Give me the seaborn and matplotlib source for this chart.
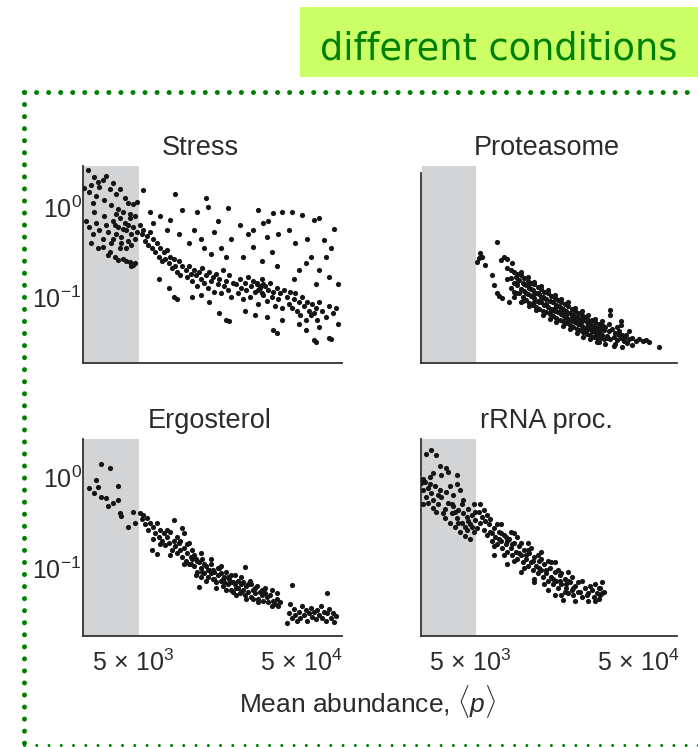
import numpy as np
import pandas as pd
import matplotlib
matplotlib.use("Agg")
import matplotlib.pyplot as plt
from matplotlib.lines import Line2D
from matplotlib.patches import Rectangle
from matplotlib.ticker import NullLocator
import seaborn as sns

# ---------------- data (log10 mean abundance, log10 noise) ----------------
panel_titles = ["Stress", "Proteasome", "Ergosterol", "rRNA proc."]
x_ticks = [5e3, 5e4]
x_tick_labels = ["$5\\,\\times\\,10^3$", "$5\\,\\times\\,10^4$"]
y_ticks = [1.0, 0.1]
y_tick_labels = ["$10^0$", "$10^{-1}$"]
x_label = "Mean abundance, $\\langle p \\rangle$"
header = "different conditions"
shade_upper = 5400  # low-abundance shaded band

stress_log = [
    (3.43, 0.41), (3.45, 0.25), (3.47, 0.33), (3.49, 0.28), (3.50, 0.22), (3.52, 0.30), (3.54, 0.35),
    (3.56, 0.20), (3.58, 0.27), (3.60, 0.14), (3.62, 0.20), (3.65, 0.10), (3.67, 0.05), (3.70, 0.03),
    (3.72, 0.06), (3.41, 0.21), (3.44, 0.17), (3.48, 0.12), (3.46, 0.05), (3.53, 0.08), (3.57, 0.02),
    (3.61, -0.02), (3.64, -0.05), (3.68, -0.08), (3.71, -0.10),
    (3.42, -0.15), (3.44, -0.22), (3.46, -0.30), (3.48, -0.18), (3.50, -0.25), (3.52, -0.35), (3.54, -0.20),
    (3.55, -0.28), (3.57, -0.40), (3.58, -0.15), (3.60, -0.30), (3.61, -0.22), (3.62, -0.45), (3.63, -0.33),
    (3.65, -0.18), (3.66, -0.26), (3.67, -0.38), (3.68, -0.12), (3.69, -0.30), (3.70, -0.22), (3.71, -0.35),
    (3.72, -0.28), (3.49, -0.45), (3.45, -0.40), (3.56, -0.50), (3.64, -0.58), (3.66, -0.60), (3.68, -0.61),
    (3.70, -0.64), (3.71, -0.62), (3.59, -0.55), (3.53, -0.10), (3.47, -0.05), (3.60, -0.08), (3.66, -0.45),
    (3.62, -0.12), (3.52, -0.44), (3.55, -0.53), (3.61, -0.59), (3.69, -0.66), (3.58, -0.35), (3.64, -0.24),
    (3.67, -0.20), (3.69, -0.42), (3.63, -0.40), (3.59, -0.20),
    (3.74, -0.20), (3.75, -0.30), (3.76, -0.25), (3.77, -0.38), (3.78, -0.32), (3.79, -0.42), (3.80, -0.28),
    (3.81, -0.45), (3.82, -0.36), (3.83, -0.50), (3.84, -0.40), (3.85, -0.55), (3.86, -0.45), (3.87, -0.60),
    (3.88, -0.50), (3.89, -0.58), (3.90, -0.48), (3.91, -0.62), (3.92, -0.55), (3.93, -0.68), (3.94, -0.58),
    (3.95, -0.66), (3.96, -0.72), (3.97, -0.60), (3.98, -0.75), (3.99, -0.65),
    (3.76, 0.19), (3.95, 0.15), (3.99, -0.03), (3.92, -0.14), (3.82, -0.18), (3.86, -0.10), (3.90, -0.25),
    (3.97, -0.30), (3.80, -0.05), (3.94, -1.00), (3.96, -1.02), (3.91, -0.90), (3.85, -0.80),
    (4.01, -0.70), (4.02, -0.78), (4.03, -0.66), (4.04, -0.74), (4.05, -0.82), (4.06, -0.70), (4.07, -0.76),
    (4.08, -0.88), (4.09, -0.72), (4.10, -0.80), (4.11, -0.68), (4.12, -0.84), (4.13, -0.76), (4.14, -0.90),
    (4.15, -0.72), (4.16, -0.82), (4.17, -0.78), (4.18, -0.94), (4.19, -0.74), (4.20, -0.86), (4.21, -0.80),
    (4.22, -0.96), (4.23, -0.70), (4.24, -0.88), (4.25, -0.82), (4.26, -0.92), (4.27, -0.76), (4.28, -1.00),
    (4.29, -0.84),
    (4.13, 0.10), (4.14, 0.00), (4.26, -0.01), (4.06, -0.25), (4.10, -0.35), (4.18, -0.28), (4.22, -0.45),
    (4.03, -0.40), (4.16, -0.52), (4.28, -0.35), (4.20, -0.15), (4.08, -0.05), (4.25, -0.55), (4.12, -0.45),
    (4.21, -1.18), (4.25, -1.26), (4.27, -1.27), (4.05, -1.00), (4.15, -1.05), (4.10, -0.98),
    (4.31, -0.85), (4.32, -0.95), (4.33, -0.80), (4.34, -0.90), (4.35, -1.02), (4.36, -0.84), (4.37, -0.92),
    (4.38, -0.78), (4.39, -1.00), (4.40, -0.88), (4.41, -0.82), (4.42, -0.94), (4.43, -0.86), (4.44, -1.08),
    (4.45, -0.90), (4.46, -0.80), (4.47, -0.98), (4.48, -0.88), (4.49, -1.04), (4.50, -0.92), (4.51, -0.84),
    (4.52, -1.00), (4.53, -0.94), (4.54, -1.10), (4.55, -0.90), (4.56, -1.02), (4.57, -0.96), (4.58, -1.12),
    (4.59, -0.92), (4.43, -0.84), (4.45, -0.88), (4.47, -0.86), (4.44, -0.92), (4.46, -0.95),
    (4.44, -0.03), (4.53, -0.07), (4.58, -0.05), (4.41, -0.25), (4.49, -0.33), (4.47, -0.18), (4.41, -0.44),
    (4.35, -0.55), (4.52, -0.50), (4.56, -0.30), (4.38, -0.30), (4.46, -0.60), (4.55, -0.65), (4.33, -0.20),
    (4.50, -0.15), (4.53, -1.37), (4.55, -1.40), (4.49, -1.22), (4.36, -1.15), (4.42, -1.20), (4.58, -1.25),
    (4.61, -1.00), (4.62, -1.08), (4.63, -0.94), (4.64, -1.12), (4.65, -1.02), (4.66, -0.96), (4.67, -1.15),
    (4.68, -1.05), (4.69, -1.20), (4.70, -1.00), (4.71, -1.10), (4.72, -1.25), (4.73, -1.05), (4.74, -1.15),
    (4.75, -1.20), (4.76, -1.08), (4.77, -1.18), (4.78, -1.12), (4.79, -1.25), (4.80, -1.05), (4.82, -1.15),
    (4.84, -1.22), (4.86, -1.10), (4.88, -1.18), (4.90, -1.12),
    (4.64, -0.05), (4.70, -0.09), (4.77, -0.14), (4.80, -0.12), (4.89, -0.24), (4.73, -0.35), (4.83, -0.37),
    (4.84, -0.55), (4.80, -0.70), (4.91, -0.85), (4.66, -0.40), (4.75, -0.55), (4.68, -0.70), (4.87, -0.45),
    (4.62, -0.25), (4.78, -0.85), (4.72, -0.62), (4.86, -0.78), (4.65, -0.80),
    (4.77, -1.48), (4.78, -1.50), (4.86, -1.46), (4.87, -1.47), (4.72, -1.37), (4.80, -1.33), (4.68, -1.30),
    (4.91, -1.30),
]

proteasome_log = [
    (3.74, -0.61), (3.75, -0.57), (3.76, -0.51), (3.77, -0.55), (3.79, -0.64), (3.86, -0.39), (3.88, -0.59),
    (3.90, -0.55), (3.92, -0.58), (3.83, -0.76), (3.84, -0.87), (3.86, -0.96), (3.87, -0.99), (3.89, -1.01),
    (3.93, -1.05), (3.96, -1.00), (4.00, -1.06),
    (3.92, -0.68), (3.92, -0.80), (3.94, -0.70), (3.94, -0.79), (3.94, -0.90), (3.96, -0.72), (3.96, -0.84),
    (3.96, -0.94), (3.97, -0.78), (3.98, -0.74), (3.98, -0.87), (3.99, -0.96), (3.99, -0.81), (4.00, -0.76),
    (4.00, -0.91), (4.01, -0.84), (4.01, -1.00), (4.02, -0.79), (4.02, -0.93), (4.03, -0.87), (4.03, -1.03),
    (4.04, -0.82), (4.04, -0.97), (4.05, -0.90), (4.05, -1.07), (4.06, -0.84), (4.06, -0.99), (4.07, -0.92),
    (4.07, -1.09), (4.08, -0.86), (4.08, -1.01), (4.09, -0.95), (4.09, -1.11), (4.10, -0.89), (4.10, -1.04),
    (4.11, -0.97), (4.11, -1.13), (4.12, -0.91), (4.12, -1.06), (4.13, -1.00), (4.13, -1.15), (4.14, -0.94),
    (4.14, -1.09), (4.15, -1.02), (4.15, -1.17), (4.16, -0.96), (4.16, -1.11), (4.17, -1.04), (4.17, -1.19),
    (4.18, -0.99), (4.18, -1.13), (4.19, -1.06), (4.19, -1.21), (4.20, -1.01), (4.20, -1.15), (4.21, -1.09),
    (4.21, -1.23), (4.22, -1.03), (4.22, -1.17), (4.23, -1.11), (4.23, -1.25), (4.24, -1.06), (4.24, -1.19),
    (4.25, -1.13), (4.25, -1.27), (4.26, -1.08), (4.26, -1.22), (4.27, -1.15), (4.27, -1.29), (4.28, -1.10),
    (4.28, -1.24), (4.29, -1.18), (4.29, -1.31), (4.30, -1.13), (4.30, -1.26), (4.31, -1.20), (4.31, -1.33),
    (4.32, -1.16), (4.32, -1.28), (4.33, -1.22), (4.33, -1.35), (4.34, -1.18), (4.34, -1.30), (4.35, -1.24),
    (4.35, -1.37), (4.36, -1.20), (4.36, -1.32), (4.37, -1.26), (4.37, -1.39), (4.38, -1.22), (4.38, -1.34),
    (4.39, -1.28), (4.39, -1.41), (4.40, -1.25), (4.40, -1.36), (4.41, -1.30), (4.41, -1.42), (4.42, -1.26),
    (4.42, -1.38), (4.43, -1.32), (4.43, -1.44), (4.44, -1.28), (4.44, -1.39), (4.45, -1.34), (4.45, -1.45),
    (4.46, -1.30), (4.46, -1.41), (4.47, -1.36), (4.47, -1.46), (4.48, -1.31), (4.48, -1.42), (4.49, -1.37),
    (4.49, -1.47), (4.50, -1.33), (4.51, -1.43), (4.52, -1.38), (4.53, -1.47), (4.54, -1.35), (4.55, -1.44),
    (4.56, -1.40), (4.57, -1.48), (4.58, -1.38), (4.59, -1.46), (4.60, -1.42), (4.61, -1.49), (4.62, -1.42),
    (4.64, -1.47), (4.66, -1.45), (4.68, -1.49), (4.70, -1.47), (4.72, -1.49), (4.74, -1.48), (4.76, -1.50),
    (4.53, -1.14), (4.53, -1.20), (4.59, -1.27), (4.59, -1.31), (4.82, -1.55), (4.56, -1.52), (4.46, -1.50),
    (4.05, -0.86), (4.10, -0.96), (4.15, -1.08), (4.20, -1.12), (4.25, -1.20), (4.30, -1.21), (4.35, -1.30),
    (4.40, -1.31), (4.45, -1.40), (4.08, -1.06), (4.18, -1.16), (4.28, -1.27), (4.38, -1.37), (4.12, -1.00),
    (4.22, -1.10), (4.32, -1.23), (4.42, -1.33), (4.02, -0.86), (4.24, -1.14), (4.34, -1.26), (4.44, -1.43),
    (3.95, -0.62), (3.97, -0.96), (4.00, -0.72), (4.01, -1.04), (4.04, -0.78), (4.05, -1.10), (4.08, -0.83),
    (4.09, -1.14), (4.12, -0.88), (4.13, -1.20), (4.16, -0.92), (4.17, -1.24), (4.20, -0.98), (4.21, -1.28),
    (4.24, -1.02), (4.25, -1.32), (4.28, -1.06), (4.29, -1.36), (4.32, -1.12), (4.33, -1.40), (4.36, -1.16),
    (4.37, -1.44), (4.40, -1.20), (4.41, -1.47), (4.44, -1.24), (4.45, -1.50), (4.48, -1.27), (4.50, -1.52),
    (4.52, -1.30), (4.55, -1.54), (4.57, -1.33), (4.60, -1.55), (4.64, -1.38), (4.66, -1.53),
    (3.98, -0.83), (4.03, -0.95), (4.07, -0.98), (4.11, -1.06), (4.19, -1.05), (4.23, -1.17), (4.27, -1.20),
    (4.31, -1.27), (4.36, -1.27), (4.39, -1.33), (4.43, -1.38), (4.47, -1.40), (4.51, -1.46), (4.58, -1.42),
    (4.61, -1.45), (4.63, -1.51), (4.06, -0.91), (4.14, -1.01), (4.26, -1.15), (4.46, -1.35),
]

ergosterol_log = [
    (3.44, -0.12), (3.48, -0.03), (3.51, 0.14), (3.56, 0.10), (3.49, -0.11), (3.51, -0.22), (3.54, -0.23),
    (3.55, -0.32), (3.61, -0.10), (3.61, -0.25), (3.62, -0.40), (3.63, -0.43), (3.67, -0.55), (3.70, -0.38),
    (3.71, -0.50), (3.47, -0.18), (3.58, -0.28),
    (3.74, -0.40), (3.75, -0.46), (3.76, -0.42), (3.77, -0.52), (3.78, -0.45), (3.79, -0.58), (3.80, -0.50),
    (3.81, -0.80), (3.82, -0.55), (3.83, -0.62), (3.84, -0.50), (3.84, -0.85), (3.85, -0.66), (3.86, -0.58),
    (3.87, -0.70), (3.88, -0.62), (3.89, -0.75), (3.90, -0.66), (3.91, -0.72), (3.92, -0.60), (3.93, -0.80),
    (3.94, -0.47), (3.94, -0.70), (3.95, -0.76), (3.96, -0.84), (3.97, -0.72), (3.98, -0.80), (3.99, -0.56),
    (3.99, -0.88), (4.00, -0.62), (4.00, -0.78), (4.01, -0.92), (4.02, -0.84), (4.03, -0.96), (4.04, -0.88),
    (4.05, -0.80), (4.06, -0.98), (4.07, -0.90), (4.08, -1.04), (4.09, -0.94), (4.09, -1.21), (4.10, -1.00),
    (4.11, -0.90), (4.12, -1.06), (4.13, -0.98), (4.14, -1.10), (4.15, -1.02), (4.16, -0.96), (4.17, -1.12),
    (4.18, -1.05), (4.19, -1.16), (4.20, -1.08), (4.21, -1.00), (4.22, -1.14), (4.23, -1.20), (4.24, -1.10),
    (4.25, -1.04), (4.26, -1.18), (4.27, -1.12), (4.28, -1.24), (4.29, -1.16), (4.30, -1.08), (4.31, -1.22),
    (4.32, -1.14), (4.33, -1.28), (4.34, -1.18), (4.35, -1.24), (4.36, -0.99), (4.36, -1.30), (4.37, -1.20),
    (4.38, -1.26), (4.39, -1.14), (4.40, -1.32), (4.41, -1.24), (4.42, -1.28), (4.43, -1.20), (4.44, -1.34),
    (4.45, -1.26), (4.46, -1.30), (4.47, -1.36), (4.48, -1.28), (4.49, -1.32), (4.50, -1.38), (4.51, -1.30),
    (4.52, -1.24), (4.53, -1.36), (4.54, -1.40), (4.55, -1.34), (4.56, -1.42),
    (3.98, -0.70), (4.02, -0.74), (4.04, -0.96), (4.06, -0.86), (4.08, -0.92), (4.10, -1.10), (4.12, -0.96),
    (4.14, -1.02), (4.16, -1.06), (4.18, -1.12), (4.20, -1.00), (4.22, -1.06), (4.24, -1.16), (4.26, -1.10),
    (4.28, -1.16), (4.30, -1.18), (4.32, -1.22), (4.34, -1.26), (4.38, -1.18), (4.42, -1.22), (4.46, -1.24),
    (4.05, -0.90), (4.11, -1.04), (4.17, -1.02), (4.23, -1.12), (4.29, -1.26), (4.35, -1.16), (4.41, -1.34),
    (3.82, -0.68), (3.86, -0.74), (3.90, -0.58), (3.92, -0.86), (3.96, -0.66), (4.00, -0.96), (4.03, -0.72),
    (4.07, -1.08), (4.10, -0.84), (4.13, -1.14), (4.16, -0.90), (4.19, -1.22), (4.22, -0.98), (4.25, -1.24),
    (4.28, -1.08), (4.31, -1.30), (4.34, -1.10), (4.37, -1.34), (4.40, -1.18), (4.44, -1.38), (4.48, -1.22),
    (4.52, -1.42), (4.55, -1.28), (4.57, -1.38),
    (4.61, -1.61), (4.62, -1.50), (4.63, -1.40), (4.64, -1.19), (4.64, -1.55), (4.65, -1.45), (4.66, -1.52),
    (4.67, -1.58), (4.68, -1.48), (4.69, -1.55), (4.70, -1.42), (4.71, -1.52), (4.72, -1.46), (4.73, -1.58),
    (4.74, -1.50), (4.75, -1.44), (4.76, -1.54), (4.77, -1.48), (4.78, -1.56), (4.79, -1.46), (4.80, -1.52),
    (4.81, -1.42), (4.82, -1.55), (4.83, -1.48), (4.84, -1.58), (4.85, -1.28), (4.85, -1.50), (4.86, -1.45),
    (4.87, -1.55), (4.88, -1.50), (4.89, -1.60), (4.90, -1.53),
]

rrna_log = [
    (3.44, 0.26), (3.47, 0.30), (3.50, 0.24), (3.56, 0.10), (3.57, 0.06), (3.46, 0.00), (3.41, -0.07),
    (3.42, -0.14), (3.44, -0.22), (3.48, -0.25), (3.52, -0.14), (3.58, -0.10), (3.62, -0.08), (3.64, -0.14),
    (3.43, -0.05), (3.45, -0.12), (3.47, -0.18), (3.49, -0.10), (3.51, -0.30), (3.53, -0.22), (3.55, -0.35),
    (3.57, -0.28), (3.59, -0.40), (3.60, -0.32), (3.62, -0.45), (3.63, -0.36), (3.65, -0.50), (3.66, -0.40),
    (3.67, -0.55), (3.68, -0.44), (3.69, -0.35), (3.70, -0.52), (3.71, -0.42), (3.72, -0.60), (3.73, -0.47),
    (3.55, -0.45), (3.58, -0.50), (3.61, -0.55), (3.64, -0.60), (3.67, -0.65), (3.70, -0.68), (3.48, 0.05),
    (3.53, 0.02), (3.60, -0.20), (3.66, -0.25), (3.72, -0.30), (3.42, -0.30), (3.50, -0.38),
    (3.42, -0.02), (3.45, -0.28), (3.48, -0.34), (3.51, -0.20), (3.54, -0.40), (3.56, -0.16), (3.59, -0.30),
    (3.61, -0.38), (3.63, -0.50), (3.65, -0.30), (3.68, -0.58), (3.69, -0.48), (3.71, -0.55), (3.73, -0.38),
    (3.74, -0.56), (3.62, 0.02), (3.52, 0.12), (3.46, -0.08),
    (3.75, -0.38), (3.76, -0.50), (3.77, -0.44), (3.78, -0.58), (3.79, -0.48), (3.80, -0.64), (3.81, -0.52),
    (3.82, -0.60), (3.83, -0.70), (3.84, -0.56), (3.85, -0.66), (3.86, -0.74), (3.87, -0.60), (3.88, -0.70),
    (3.89, -0.78), (3.90, -0.64), (3.91, -0.74), (3.92, -0.82), (3.93, -0.68), (3.94, -0.78), (3.95, -0.86),
    (3.96, -0.72), (3.97, -0.82), (3.98, -0.90), (3.99, -0.76), (4.00, -0.86), (4.01, -0.94), (4.02, -0.80),
    (4.03, -0.90), (4.04, -0.98), (4.05, -0.84), (4.06, -0.94), (4.07, -1.02), (4.08, -0.88), (4.09, -0.98),
    (4.10, -1.06), (4.11, -0.92), (4.12, -1.02), (4.13, -1.10), (4.14, -0.96), (4.15, -1.06), (4.16, -1.14),
    (4.17, -1.00), (4.18, -1.10), (4.19, -1.18), (4.20, -1.04), (4.21, -1.14), (4.22, -1.22), (4.23, -1.08),
    (4.24, -1.18), (4.25, -1.35), (4.26, -1.12), (4.27, -1.22), (4.28, -1.28), (4.29, -1.16), (4.30, -1.24),
    (4.31, -1.30), (4.32, -1.20), (4.34, -1.26), (4.36, -1.32), (4.38, -1.22), (4.40, -1.28), (4.42, -1.24),
    (4.43, -1.32), (4.44, -1.18), (4.45, -1.28), (4.46, -1.22), (4.47, -1.30), (4.48, -1.16), (4.49, -1.26),
    (3.78, -0.36), (3.82, -0.46), (3.86, -0.52), (3.90, -0.86), (3.94, -0.60), (3.98, -0.66), (4.02, -1.00),
    (4.06, -0.78), (4.10, -0.86), (4.14, -1.18), (4.18, -0.94), (4.22, -1.02), (4.26, -1.26), (4.30, -1.10),
    (4.34, -1.16), (3.84, -0.76), (3.92, -0.70), (4.00, -0.72), (4.08, -1.12), (4.16, -0.92), (4.24, -1.06),
    (4.20, -1.30), (4.12, -0.90), (3.88, -0.62), (3.96, -0.92), (4.04, -0.80), (4.28, -1.14),
    (3.76, -0.30), (3.80, -0.42), (3.84, -0.86), (3.88, -0.52), (3.92, -0.96), (3.96, -0.62), (4.00, -1.04),
    (4.04, -0.72), (4.08, -1.16), (4.12, -0.82), (4.16, -1.24), (4.20, -0.94), (4.24, -1.30), (4.28, -1.04),
    (4.32, -1.36), (4.36, -1.14), (4.40, -1.36), (4.44, -1.36), (4.47, -1.22), (3.83, -0.62), (3.87, -0.68),
    (3.91, -0.66), (3.95, -0.74), (3.99, -0.84), (4.03, -0.86), (4.07, -0.92), (4.11, -1.00), (4.15, -1.02),
    (4.19, -1.12), (4.23, -1.14), (4.27, -1.18), (4.31, -1.22), (4.35, -1.26), (4.39, -1.30), (4.41, -1.20),
    (4.46, -1.34), (4.48, -1.28),
]

# ---------------- figure ----------------
sns.set_theme(style="white")
plt.rcParams["font.family"] = ["Liberation Sans", "DejaVu Sans"]
plt.rcParams["mathtext.fontset"] = "custom"
plt.rcParams["mathtext.rm"] = "Liberation Sans"
plt.rcParams["mathtext.it"] = "Liberation Sans:italic"

W, H = 698, 747
fig = plt.figure(figsize=(W / 100, H / 100), dpi=100)
fig.patch.set_facecolor("white")

def frac(x0, y_top, x1, y_bot):
    return [x0 / W, 1 - y_bot / H, (x1 - x0) / W, (y_bot - y_top) / H]

layouts = [
    frac(83, 166, 342, 363),
    frac(421, 166, 677, 363),
    frac(83, 439, 342, 636),
    frac(421, 439, 677, 636),
]
xlims = [(2530, 86300), (2566, 83950), (2530, 86300), (2566, 83950)]
ylims = [(0.0185, 2.86), (0.0185, 2.86), (0.0178, 2.63), (0.0178, 2.63)]
title_x = [0.452, 0.49, 0.49, 0.49]
datasets = [stress_log, proteasome_log, ergosterol_log, rrna_log]

text_col = "#2b2b2b"
for i, (pos, pts) in enumerate(zip(layouts, datasets)):
    ax = fig.add_axes(pos)
    df = pd.DataFrame(pts, columns=["log_abundance", "log_noise"])
    df["abundance"] = 10 ** df["log_abundance"]
    df["noise"] = 10 ** df["log_noise"]
    ax.set_xscale("log")
    ax.set_yscale("log")
    ax.axvspan(xlims[i][0] * (1.02 if i in (1, 3) else 1.0), shade_upper,
               color="#d3d4d6", lw=0, zorder=0)
    sns.scatterplot(data=df, x="abundance", y="noise", ax=ax, color="#151515",
                    s=14, linewidth=0, zorder=3)
    ax.set_xlim(*xlims[i])
    ax.set_ylim(*ylims[i])
    ax.set_xlabel("")
    ax.set_ylabel("")
    ax.set_facecolor("none")
    for side in ("top", "right"):
        ax.spines[side].set_visible(False)
    for side in ("left", "bottom"):
        ax.spines[side].set_color("#333333")
        ax.spines[side].set_linewidth(1.3)
    if i == 1:
        ax.spines["left"].set_bounds(ylims[i][0], 2.39)
    ax.xaxis.set_minor_locator(NullLocator())
    ax.yaxis.set_minor_locator(NullLocator())
    ax.set_xticks(x_ticks)
    ax.set_yticks(y_ticks)
    ax.set_xticklabels(x_tick_labels if i >= 2 else ["", ""])
    ax.set_yticklabels(y_tick_labels if i in (0, 2) else ["", ""])
    ax.tick_params(axis="both", direction="in", length=4, width=1.1, color="#333333",
                   labelsize=18, labelcolor=text_col)
    ax.tick_params(axis="x", pad=10)
    ax.tick_params(axis="y", pad=1)
    ax.set_title(panel_titles[i], x=title_x[i], pad=8, fontsize=19.5, color=text_col)

fig.text(368 / W, 1 - 702 / H, x_label, ha="center", va="center", fontsize=19, color=text_col)

# header box
fig.patches.append(Rectangle((300 / W, 1 - 77 / H), (W - 300) / W, 70 / H,
                             transform=fig.transFigure, facecolor="#ccff66", edgecolor="none"))
fig.text(320 / W, 1 - 60 / H, header, ha="left", va="baseline", fontsize=26.5,
         color="#008000", family="DejaVu Sans")

# dotted frame
dot = dict(color="#008000", linestyle=(0, (0.01, 2.4)), dash_capstyle="round",
           transform=fig.transFigure)
fig.lines.append(Line2D([24 / W, 1.0], [1 - 92 / H, 1 - 92 / H], linewidth=3.6, **dot))
fig.lines.append(Line2D([24 / W, 24 / W], [1 - 92 / H, 0.0], linewidth=3.6, **dot))
fig.lines.append(Line2D([24 / W, 1.0], [1 - 745 / H, 1 - 745 / H], linewidth=2.2,
                        color="#008000", linestyle=(0, (0.01, 4.0)), dash_capstyle="round",
                        transform=fig.transFigure))

fig.savefig("out.png", dpi=100)
